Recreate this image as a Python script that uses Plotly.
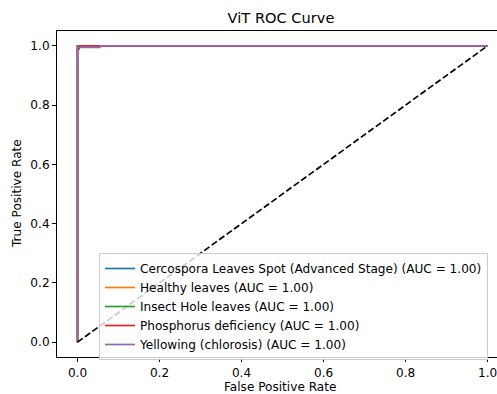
import plotly.graph_objects as go

class_names = [
    "Cercospora Leaves Spot (Advanced Stage)",
    "Healthy leaves",
    "Insect Hole leaves",
    "Phosphorus deficiency",
    "Yellowing (chlorosis)",
]
auc_values = [1.00, 1.00, 1.00, 1.00, 1.00]
fpr_values = [
    [0.0, 0.0, 1.0],
    [0.0, 0.0, 1.0],
    [0.0, 0.0, 1.0],
    [0.0, 0.0, 0.004, 0.004, 1.0],
    [0.0, 0.0, 0.055, 0.055, 1.0],
]
tpr_values = [
    [0.0, 1.0, 1.0],
    [0.0, 1.0, 1.0],
    [0.0, 1.0, 1.0],
    [0.0, 0.99, 0.99, 1.0, 1.0],
    [0.0, 0.995, 0.995, 1.0, 1.0],
]
colors = ["#1f77b4", "#ff7f0e", "#2ca02c", "#d62728", "#9467bd"]
diag_x = [0.0, 1.0]
diag_y = [0.0, 1.0]
tick_vals = [0.0, 0.2, 0.4, 0.6, 0.8, 1.0]
tick_text = ["0.0", "0.2", "0.4", "0.6", "0.8", "1.0"]

FONT = "DejaVu Sans"
FS = 12.1
W, H = 497, 394
L, R, T, B = 57, 0, 31, 37

fig = go.Figure()
for name, auc, fx, ty, c in zip(class_names, auc_values, fpr_values, tpr_values, colors):
    fig.add_trace(go.Scatter(
        x=fx, y=ty, mode="lines",
        name=f"{name} (AUC = {auc:.2f})",
        line=dict(color=c, width=1.7),
    ))
fig.add_trace(go.Scatter(
    x=diag_x, y=diag_y, mode="lines", showlegend=False,
    line=dict(color="black", width=1.7, dash="6.4px,2.8px"),
))

pw = W - L - R
ph = H - T - B
fig.update_layout(
    width=W, height=H,
    margin=dict(l=L, r=R, t=T, b=B, autoexpand=False),
    paper_bgcolor="white", plot_bgcolor="white",
    font=dict(family=FONT, size=FS, color="black"),
    title=dict(text="ViT ROC Curve", x=281 / W, xref="container", xanchor="center",
               y=1 - 17.5 / H, yref="container", yanchor="middle",
               font=dict(family=FONT, size=14.6, color="black"), automargin=False),
    showlegend=True,
    legend=dict(x=(99 - L) / pw, y=(H - B - 253) / ph, xanchor="left", yanchor="top",
                bgcolor="rgba(255,255,255,0.8)", bordercolor="#cccccc", borderwidth=1,
                font=dict(family=FONT, size=FS, color="black"),
                tracegroupgap=0),
    annotations=[
        dict(text="False Positive Rate", xref="paper", yref="paper",
             x=(280 - L) / pw, y=-(386.5 - (H - B)) / ph, xanchor="center", yanchor="middle",
             showarrow=False, font=dict(family=FONT, size=FS, color="black")),
        dict(text="True Positive Rate", xref="paper", yref="paper",
             x=-(L - 17) / pw, y=0.5, xanchor="center", yanchor="middle", textangle=-90,
             showarrow=False, font=dict(family=FONT, size=FS, color="black")),
    ],
)
fig.update_xaxes(
    range=[-0.05, 1.023], tickvals=tick_vals, ticktext=tick_text, automargin=False,
    ticklabeloverflow="allow",
    showgrid=False, zeroline=False, showline=True, linecolor="black", linewidth=1,
    mirror=True, ticks="outside", ticklen=4, tickcolor="black", tickwidth=1,
)
fig.update_yaxes(
    range=[-0.05, 1.05], tickvals=tick_vals, ticktext=tick_text, automargin=False,
    ticklabeloverflow="allow",
    showgrid=False, zeroline=False, showline=True, linecolor="black", linewidth=1,
    mirror=False, ticks="outside", ticklen=4, tickcolor="black", tickwidth=1,
)
fig.write_html(
    "out.html",
    config={"displayModeBar": False},
    post_script="document.body.style.margin='0';document.body.style.overflow='hidden';",
)
